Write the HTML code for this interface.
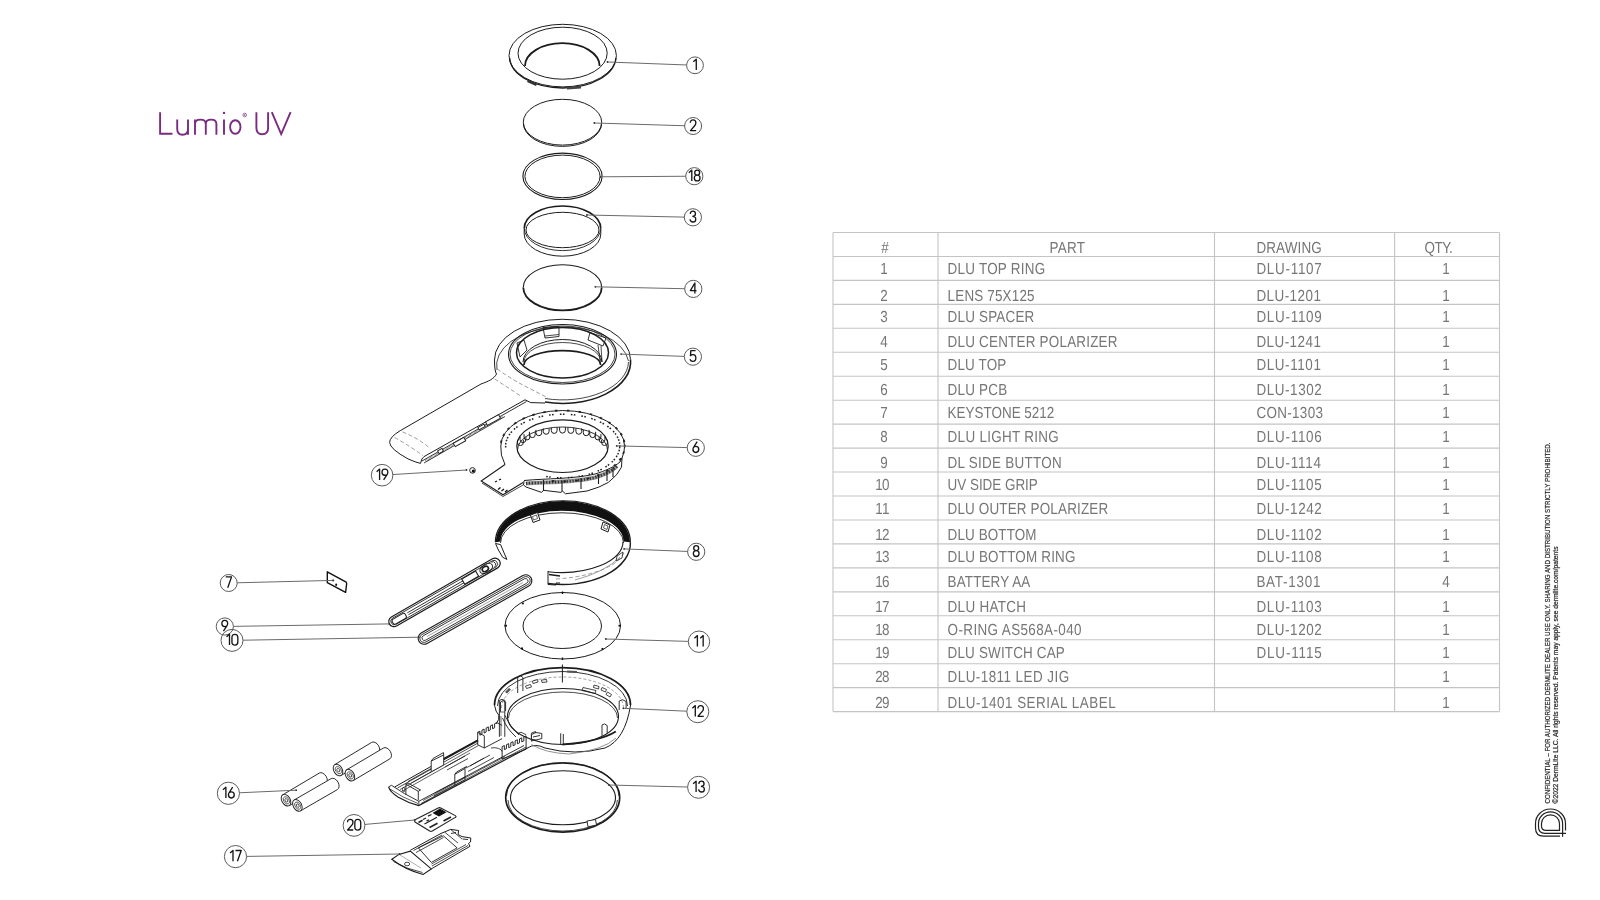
<!DOCTYPE html>
<html><head><meta charset="utf-8"><title>Lumio UV</title>
<style>
html,body{margin:0;padding:0;background:#fff;width:1600px;height:900px;overflow:hidden}
svg{position:absolute;left:0;top:0;will-change:transform}
.grid line{stroke:#c4c4c4;stroke-width:1.1}
.tt text{text-rendering:geometricPrecision;font-family:"Liberation Sans",sans-serif;font-size:64px;fill:#767676}
.k{fill:none;stroke:#1c1c1c;stroke-width:1}
.kw{fill:#fff;stroke:#1c1c1c;stroke-width:1}
.co{fill:none;stroke:#5a5a5a;stroke-width:1}
.cl{fill:none;stroke:#6a6a6a;stroke-width:1}
.cn{font-family:"Liberation Sans",sans-serif;font-size:16px;fill:#111}
.ds{fill:none;stroke:#909090;stroke-width:0.9;stroke-dasharray:4 2.5}
.vt{font-family:"Liberation Sans",sans-serif;font-size:7.6px;fill:#2a2a2a;stroke:#2a2a2a;stroke-width:0.22}
</style></head>
<body>
<svg width="1600" height="900" viewBox="0 0 1600 900">
<g class="grid">
<line x1="833" y1="232.50" x2="1499.5" y2="232.50"/>
<line x1="833" y1="256.45" x2="1499.5" y2="256.45"/>
<line x1="833" y1="280.41" x2="1499.5" y2="280.41"/>
<line x1="833" y1="304.37" x2="1499.5" y2="304.37"/>
<line x1="833" y1="328.32" x2="1499.5" y2="328.32"/>
<line x1="833" y1="352.27" x2="1499.5" y2="352.27"/>
<line x1="833" y1="376.23" x2="1499.5" y2="376.23"/>
<line x1="833" y1="400.19" x2="1499.5" y2="400.19"/>
<line x1="833" y1="424.14" x2="1499.5" y2="424.14"/>
<line x1="833" y1="448.09" x2="1499.5" y2="448.09"/>
<line x1="833" y1="472.05" x2="1499.5" y2="472.05"/>
<line x1="833" y1="496.00" x2="1499.5" y2="496.00"/>
<line x1="833" y1="519.96" x2="1499.5" y2="519.96"/>
<line x1="833" y1="543.91" x2="1499.5" y2="543.91"/>
<line x1="833" y1="567.87" x2="1499.5" y2="567.87"/>
<line x1="833" y1="591.83" x2="1499.5" y2="591.83"/>
<line x1="833" y1="615.78" x2="1499.5" y2="615.78"/>
<line x1="833" y1="639.73" x2="1499.5" y2="639.73"/>
<line x1="833" y1="663.69" x2="1499.5" y2="663.69"/>
<line x1="833" y1="687.64" x2="1499.5" y2="687.64"/>
<line x1="833" y1="711.60" x2="1499.5" y2="711.60"/>
<line x1="833" y1="232.5" x2="833" y2="711.60"/>
<line x1="938" y1="232.5" x2="938" y2="711.60"/>
<line x1="1214.5" y1="232.5" x2="1214.5" y2="711.60"/>
<line x1="1394.6" y1="232.5" x2="1394.6" y2="711.60"/>
<line x1="1499.5" y1="232.5" x2="1499.5" y2="711.60"/>
</g>
<g class="tt">
<text transform="translate(885,253.00) scale(0.2100,0.25)" x="0" y="0" text-anchor="middle">#</text>
<text transform="translate(1049.4,253.00) scale(0.2100,0.25)" x="0" y="0" textLength="169.52" lengthAdjust="spacing">PART</text>
<text transform="translate(1256.4,253.00) scale(0.2100,0.25)" x="0" y="0" textLength="311.43" lengthAdjust="spacing">DRAWING</text>
<text transform="translate(1424.5,253.00) scale(0.2100,0.25)" x="0" y="0" textLength="134.29" lengthAdjust="spacing">QTY.</text>
<text transform="translate(884.1,273.50) scale(0.2100,0.25)" x="0" y="0" text-anchor="middle">1</text>
<text transform="translate(947.6,273.50) scale(0.2100,0.25)" x="0" y="0" textLength="464.29" lengthAdjust="spacing">DLU TOP RING</text>
<text transform="translate(1256.4,273.50) scale(0.2100,0.25)" x="0" y="0" textLength="311.43" lengthAdjust="spacing">DLU-1107</text>
<text transform="translate(1445.9,273.50) scale(0.2100,0.25)" x="0" y="0" text-anchor="middle">1</text>
<text transform="translate(884.1,300.50) scale(0.2100,0.25)" x="0" y="0" text-anchor="middle">2</text>
<text transform="translate(947.6,300.50) scale(0.2100,0.25)" x="0" y="0" textLength="413.81" lengthAdjust="spacing">LENS 75X125</text>
<text transform="translate(1256.4,300.50) scale(0.2100,0.25)" x="0" y="0" textLength="307.14" lengthAdjust="spacing">DLU-1201</text>
<text transform="translate(1445.9,300.50) scale(0.2100,0.25)" x="0" y="0" text-anchor="middle">1</text>
<text transform="translate(884.1,322.30) scale(0.2100,0.25)" x="0" y="0" text-anchor="middle">3</text>
<text transform="translate(947.6,322.30) scale(0.2100,0.25)" x="0" y="0" textLength="412.86" lengthAdjust="spacing">DLU SPACER</text>
<text transform="translate(1256.4,322.30) scale(0.2100,0.25)" x="0" y="0" textLength="311.43" lengthAdjust="spacing">DLU-1109</text>
<text transform="translate(1445.9,322.30) scale(0.2100,0.25)" x="0" y="0" text-anchor="middle">1</text>
<text transform="translate(884.1,346.50) scale(0.2100,0.25)" x="0" y="0" text-anchor="middle">4</text>
<text transform="translate(947.6,346.50) scale(0.2100,0.25)" x="0" y="0" textLength="809.05" lengthAdjust="spacing">DLU CENTER POLARIZER</text>
<text transform="translate(1256.4,346.50) scale(0.2100,0.25)" x="0" y="0" textLength="307.14" lengthAdjust="spacing">DLU-1241</text>
<text transform="translate(1445.9,346.50) scale(0.2100,0.25)" x="0" y="0" text-anchor="middle">1</text>
<text transform="translate(884.1,370.30) scale(0.2100,0.25)" x="0" y="0" text-anchor="middle">5</text>
<text transform="translate(947.6,370.30) scale(0.2100,0.25)" x="0" y="0" textLength="279.52" lengthAdjust="spacing">DLU TOP</text>
<text transform="translate(1256.4,370.30) scale(0.2100,0.25)" x="0" y="0" textLength="307.14" lengthAdjust="spacing">DLU-1101</text>
<text transform="translate(1445.9,370.30) scale(0.2100,0.25)" x="0" y="0" text-anchor="middle">1</text>
<text transform="translate(884.1,395.00) scale(0.2100,0.25)" x="0" y="0" text-anchor="middle">6</text>
<text transform="translate(947.6,395.00) scale(0.2100,0.25)" x="0" y="0" textLength="283.81" lengthAdjust="spacing">DLU PCB</text>
<text transform="translate(1256.4,395.00) scale(0.2100,0.25)" x="0" y="0" textLength="311.43" lengthAdjust="spacing">DLU-1302</text>
<text transform="translate(1445.9,395.00) scale(0.2100,0.25)" x="0" y="0" text-anchor="middle">1</text>
<text transform="translate(884.1,418.30) scale(0.2100,0.25)" x="0" y="0" text-anchor="middle">7</text>
<text transform="translate(947.6,418.30) scale(0.2100,0.25)" x="0" y="0" textLength="508.10" lengthAdjust="spacing">KEYSTONE 5212</text>
<text transform="translate(1256.4,418.30) scale(0.2100,0.25)" x="0" y="0" textLength="316.67" lengthAdjust="spacing">CON-1303</text>
<text transform="translate(1445.9,418.30) scale(0.2100,0.25)" x="0" y="0" text-anchor="middle">1</text>
<text transform="translate(884.1,442.00) scale(0.2100,0.25)" x="0" y="0" text-anchor="middle">8</text>
<text transform="translate(947.6,442.00) scale(0.2100,0.25)" x="0" y="0" textLength="529.52" lengthAdjust="spacing">DLU LIGHT RING</text>
<text transform="translate(1256.4,442.00) scale(0.2100,0.25)" x="0" y="0" textLength="311.43" lengthAdjust="spacing">DLU-1106</text>
<text transform="translate(1445.9,442.00) scale(0.2100,0.25)" x="0" y="0" text-anchor="middle">1</text>
<text transform="translate(884.1,468.00) scale(0.2100,0.25)" x="0" y="0" text-anchor="middle">9</text>
<text transform="translate(947.6,468.00) scale(0.2100,0.25)" x="0" y="0" textLength="543.33" lengthAdjust="spacing">DL SIDE BUTTON</text>
<text transform="translate(1256.4,468.00) scale(0.2100,0.25)" x="0" y="0" textLength="307.14" lengthAdjust="spacing">DLU-1114</text>
<text transform="translate(1445.9,468.00) scale(0.2100,0.25)" x="0" y="0" text-anchor="middle">1</text>
<text transform="translate(875.2,490.00) scale(0.2100,0.25)" x="0" y="0" textLength="67.62" lengthAdjust="spacing">10</text>
<text transform="translate(947.6,490.00) scale(0.2100,0.25)" x="0" y="0" textLength="429.52" lengthAdjust="spacing">UV SIDE GRIP</text>
<text transform="translate(1256.4,490.00) scale(0.2100,0.25)" x="0" y="0" textLength="311.43" lengthAdjust="spacing">DLU-1105</text>
<text transform="translate(1445.9,490.00) scale(0.2100,0.25)" x="0" y="0" text-anchor="middle">1</text>
<text transform="translate(875.2,513.50) scale(0.2100,0.25)" x="0" y="0" textLength="67.62" lengthAdjust="spacing">11</text>
<text transform="translate(947.6,513.50) scale(0.2100,0.25)" x="0" y="0" textLength="764.29" lengthAdjust="spacing">DLU OUTER POLARIZER</text>
<text transform="translate(1256.4,513.50) scale(0.2100,0.25)" x="0" y="0" textLength="311.43" lengthAdjust="spacing">DLU-1242</text>
<text transform="translate(1445.9,513.50) scale(0.2100,0.25)" x="0" y="0" text-anchor="middle">1</text>
<text transform="translate(875.2,539.90) scale(0.2100,0.25)" x="0" y="0" textLength="67.62" lengthAdjust="spacing">12</text>
<text transform="translate(947.6,539.90) scale(0.2100,0.25)" x="0" y="0" textLength="423.33" lengthAdjust="spacing">DLU BOTTOM</text>
<text transform="translate(1256.4,539.90) scale(0.2100,0.25)" x="0" y="0" textLength="311.43" lengthAdjust="spacing">DLU-1102</text>
<text transform="translate(1445.9,539.90) scale(0.2100,0.25)" x="0" y="0" text-anchor="middle">1</text>
<text transform="translate(875.2,562.00) scale(0.2100,0.25)" x="0" y="0" textLength="67.62" lengthAdjust="spacing">13</text>
<text transform="translate(947.6,562.00) scale(0.2100,0.25)" x="0" y="0" textLength="608.57" lengthAdjust="spacing">DLU BOTTOM RING</text>
<text transform="translate(1256.4,562.00) scale(0.2100,0.25)" x="0" y="0" textLength="311.43" lengthAdjust="spacing">DLU-1108</text>
<text transform="translate(1445.9,562.00) scale(0.2100,0.25)" x="0" y="0" text-anchor="middle">1</text>
<text transform="translate(875.2,586.50) scale(0.2100,0.25)" x="0" y="0" textLength="67.62" lengthAdjust="spacing">16</text>
<text transform="translate(947.6,586.50) scale(0.2100,0.25)" x="0" y="0" textLength="393.81" lengthAdjust="spacing">BATTERY AA</text>
<text transform="translate(1256.4,586.50) scale(0.2100,0.25)" x="0" y="0" textLength="304.76" lengthAdjust="spacing">BAT-1301</text>
<text transform="translate(1445.9,586.50) scale(0.2100,0.25)" x="0" y="0" text-anchor="middle">4</text>
<text transform="translate(875.2,612.00) scale(0.2100,0.25)" x="0" y="0" textLength="67.62" lengthAdjust="spacing">17</text>
<text transform="translate(947.6,612.00) scale(0.2100,0.25)" x="0" y="0" textLength="373.33" lengthAdjust="spacing">DLU HATCH</text>
<text transform="translate(1256.4,612.00) scale(0.2100,0.25)" x="0" y="0" textLength="311.43" lengthAdjust="spacing">DLU-1103</text>
<text transform="translate(1445.9,612.00) scale(0.2100,0.25)" x="0" y="0" text-anchor="middle">1</text>
<text transform="translate(875.2,634.50) scale(0.2100,0.25)" x="0" y="0" textLength="67.62" lengthAdjust="spacing">18</text>
<text transform="translate(947.6,634.50) scale(0.2100,0.25)" x="0" y="0" textLength="637.62" lengthAdjust="spacing">O-RING AS568A-040</text>
<text transform="translate(1256.4,634.50) scale(0.2100,0.25)" x="0" y="0" textLength="311.43" lengthAdjust="spacing">DLU-1202</text>
<text transform="translate(1445.9,634.50) scale(0.2100,0.25)" x="0" y="0" text-anchor="middle">1</text>
<text transform="translate(875.2,658.00) scale(0.2100,0.25)" x="0" y="0" textLength="67.62" lengthAdjust="spacing">19</text>
<text transform="translate(947.6,658.00) scale(0.2100,0.25)" x="0" y="0" textLength="558.10" lengthAdjust="spacing">DLU SWITCH CAP</text>
<text transform="translate(1256.4,658.00) scale(0.2100,0.25)" x="0" y="0" textLength="311.43" lengthAdjust="spacing">DLU-1115</text>
<text transform="translate(1445.9,658.00) scale(0.2100,0.25)" x="0" y="0" text-anchor="middle">1</text>
<text transform="translate(875.2,682.00) scale(0.2100,0.25)" x="0" y="0" textLength="67.62" lengthAdjust="spacing">28</text>
<text transform="translate(947.6,682.00) scale(0.2100,0.25)" x="0" y="0" textLength="578.57" lengthAdjust="spacing">DLU-1811 LED JIG</text>
<text transform="translate(1445.9,682.00) scale(0.2100,0.25)" x="0" y="0" text-anchor="middle">1</text>
<text transform="translate(875.2,708.00) scale(0.2100,0.25)" x="0" y="0" textLength="67.62" lengthAdjust="spacing">29</text>
<text transform="translate(947.6,708.00) scale(0.2100,0.25)" x="0" y="0" textLength="800.00" lengthAdjust="spacing">DLU-1401 SERIAL LABEL</text>
<text transform="translate(1445.9,708.00) scale(0.2100,0.25)" x="0" y="0" text-anchor="middle">1</text>
</g>
<!-- Title -->
<g fill="none" stroke="#7a2c82" stroke-width="1.9" stroke-linecap="butt">
<path d="M160.1,112.2 V133.8 H172.5"/>
<path d="M177.2,119.6 V129 Q177.2,134.7 182.6,134.7 Q188,134.7 188,129 M188,119.6 V134.7"/>
<path d="M195,134.7 V119.6 M195,124 Q195,119.6 200.4,119.6 Q205.8,119.6 205.8,124 V134.7 M205.8,124 Q205.8,119.6 211.1,119.6 Q216.4,119.6 216.4,124 V134.7"/>
<path d="M224,119.6 V134.7"/>
<ellipse cx="235.3" cy="127" rx="5.2" ry="6.8"/>
<path d="M256.4,112.2 V128 Q256.4,134.2 262.25,134.2 Q268.1,134.2 268.1,128 V112.2"/>
<path d="M271.8,112.2 L281.2,134.2 L290.6,112.2"/>
</g>
<circle cx="224" cy="112.9" r="1.2" fill="#7a2c82"/>
<circle cx="244.7" cy="115" r="1.8" fill="none" stroke="#7a2c82" stroke-width="0.7"/><circle cx="244.7" cy="115" r="0.7" fill="#7a2c82"/>

<!-- vertical confidential text -->
<text class="vt" transform="translate(1549.8,803.5) rotate(-90)" textLength="361" lengthAdjust="spacingAndGlyphs">CONFIDENTIAL – FOR AUTHORIZED DERMLITE DEALER USE ONLY. SHARING AND DISTRIBUTION STRICTLY PROHIBITED.</text>
<text class="vt" transform="translate(1557.6,803.5) rotate(-90)" textLength="257" lengthAdjust="spacingAndGlyphs">©2022 DermLite LLC. All rights reserved. Patents may apply, see dermlite.com/patents</text>
<!-- logo -->
<g fill="none" stroke="#222" stroke-width="1.2">
<path d="M1565.5,830.5 V823.5 A15,14.5 0 0 0 1535.5,823.5 V828 Q1535.5,836.1 1543.6,836.1 H1560"/>
<path d="M1562.6,836.8 V823.5 A12,11.6 0 0 0 1538.5,823.5 V827 Q1538.5,833.3 1545,833.3 H1566"/>
<path d="M1559.5,823.5 A9,8.7 0 0 0 1541.5,823.5 V826 Q1541.5,830.4 1546,830.4 H1559.5 Z"/>
</g>

<!-- Part 1: top ring -->
<g class="k">
<ellipse cx="562.7" cy="55.6" rx="53.7" ry="31.3"/>
<path d="M509.6,58 A53.2,31.3 0 0 0 615.9,58" stroke-width="1.4"/>
<ellipse cx="562.6" cy="53.2" rx="44.6" ry="26"/>
<path d="M525,66 A37.3,22.8 0 0 1 599.6,66" stroke-width="1.8"/>
</g>
<path d="M528,80 L537,84 L536,86 L527,82 Z" fill="#333"/>
<path d="M567,87 L581,86 L581,88.5 L567,89.5 Z" fill="#444"/>

<!-- Part 2: lens -->
<g class="k">
<ellipse cx="562.5" cy="122.2" rx="39.2" ry="22.9"/>
<path d="M523.4,123.5 A39.1,22.9 0 0 0 601.6,123.5" stroke-width="1"/>
</g>

<!-- Part 18: o-ring -->
<g class="k">
<ellipse cx="562.5" cy="176.3" rx="39.6" ry="23.2" stroke-width="1.1"/>
<ellipse cx="562.5" cy="176.4" rx="37.6" ry="21.3" stroke-width="1"/>
</g>

<!-- Part 3: spacer -->
<g class="k">
<path d="M524.3,228.3 A38.2,22.3 0 0 1 600.7,228.3" stroke-width="1.7"/>
<path d="M524.3,228.3 A38.2,22.3 0 0 0 600.7,228.3" stroke-width="0.9"/>
<ellipse cx="562.5" cy="230" rx="36.5" ry="17.7"/>
<path d="M524.2,228.3 V234 A38.3,22.2 0 0 0 600.8,234 V228.3"/>
</g>

<!-- Part 4: center polarizer -->
<g class="k">
<path d="M523.3,287.5 A39.2,22.8 0 0 1 601.7,287.5" stroke-width="1.1"/>
<path d="M523.3,287.5 A39.2,22.8 0 0 0 601.7,287.5" stroke-width="1.8"/>
</g>

<!-- Part 5: DLU top -->
<g class="k">
<!-- handle outline -->
<path d="M494.5,360 Q494.5,371 496.5,374 C494,379 488,381.5 481,384 L400.2,430.7 Q389.6,437 389.6,442.5 Q390,449 408,458.9 Q416,462.5 420.5,463.4"/>
<path d="M420.5,463.4 Q421.5,458 424,456.6 L525,399.8 L530.7,402.6 L545,403"/>
<path d="M422,461 L526.5,401.5" stroke-width="0.9"/>
<path d="M425.5,461 L503,416" stroke="#777" stroke-width="2.4" stroke-dasharray="0.7 0.7"/>
<path d="M424,463 L505,416.5" stroke-width="0.8"/>
<g fill="#fff" stroke="#1c1c1c" stroke-width="0.9">
<rect x="438" y="449.5" width="5" height="3" transform="rotate(-29.5 440.5 451)"/>
<rect x="453.5" y="440" width="12" height="4" transform="rotate(-29.5 459.5 442)"/>
<rect x="478" y="425.7" width="7" height="2.6" transform="rotate(-29.5 481.5 427)"/>
<rect x="485.5" y="418" width="15" height="4" transform="rotate(-29.5 493 420)"/>
</g>
<!-- ring silhouette -->
<path d="M494.5,360 A68,40.5 0 0 1 630.5,359.5"/>
<path d="M630.5,359.5 A68,41.5 0 0 1 545,402" stroke-width="1.6"/>
<path d="M628.5,362 A66,38.5 0 0 1 545,398.5" stroke-width="0.8"/>
<path d="M497,370 A66,38.5 0 0 1 628.5,361" stroke-width="0.8"/>
<ellipse cx="562.5" cy="354.25" rx="54" ry="29.75" stroke-width="1.1"/>
<ellipse cx="562.5" cy="354.25" rx="52.5" ry="28.25" stroke-width="0.8"/>
<ellipse cx="562.5" cy="352.75" rx="46" ry="25.25" stroke-width="1.5"/>
<path d="M523,362 A39.5,22.5 0 0 1 602,362"/>
<path d="M524,362 A38.5,19.5 0 0 1 601,362" stroke-width="0.8"/>
<path d="M523.9,365 A38.3,14.4 0 0 1 600.6,365" stroke-width="1.6"/>
<path d="M543,327.5 L559,326.5 L559,336.5 L545,338 Z" stroke-width="0.9"/>
<path d="M545,336 L559,334.5" stroke-width="0.8"/>
<path d="M590,332.5 L606,338 L603,346 L588,340 Z" stroke-width="0.9"/>
<path d="M517,343 L524,340 L527,350 L520,357 Z" stroke-width="0.9"/>
<path d="M598,345 L600,361 M601,346 L602,362" stroke-width="0.8"/>
</g>
<g class="ds">
<path d="M497,369 Q510,378 521,384 L548,398"/>
<path d="M402.5,431.9 Q418,438 430.6,448.7"/>
<path d="M394.6,437.5 Q410,446 422.7,455.5"/>
<path d="M494.7,379 L520.6,395.9"/>
</g>

<!-- Part 6: PCB -->
<g class="k">
<path d="M505,464.5 Q500,455 500.8,446 A61.9,35.5 0 0 1 624.6,446 Q624.6,452 622,458"/>
<path d="M505,464.5 L481.2,481 L503,494.8 L523,482.5" stroke-width="1.1"/>
<path d="M482,483 L503,496.5 L523,485" stroke-width="0.8"/>
<path d="M495,482 L497,481 M499,480 L501,479 M498,489.5 L500.5,487.5 M501.5,491 L504,489 M505,492 L507.5,490" stroke="#111" stroke-width="1.3"/>
<path d="M524,480.5 C545,478.5 575,479 595,474 C605,471 614,467 620,462 L622,458" stroke-width="1"/>
<path d="M526,483.5 C545,482 575,482.5 595,477.5 C605,474.5 612,471 617,466" stroke="#9a9a9a" stroke-width="4.2" fill="none"/>
<path d="M526,483.5 C545,482 575,482.5 595,477.5 C605,474.5 612,471 617,466" stroke="#333" stroke-width="2.8" stroke-dasharray="1.3 1.6" fill="none"/>
<path d="M524,481 L523.5,485 L526,487 L541.6,492.4 L543.5,490.3 L561,492.4 L562.5,491 L565.4,493.8 L587,491 Q600,487.5 608.5,482.3 Q618,475 621.5,467.2 L622,458" stroke-width="1"/>
<path d="M543.5,480 V491 M562,480.5 V491.5 M581,478 V489 M598.5,474 V484 M607,470 V481 M613,467 V477" stroke-width="1.1"/>
<ellipse cx="562.5" cy="446.2" rx="45.7" ry="26.3" stroke-width="1.2"/>
<path d="M517.5,450 A45,23 0 0 1 607.5,450" stroke-width="0.9"/>
</g>
<g class="k" stroke-width="0.9"><path d="M517.54,439.74 v2.9 a2.9,2.9 0 0 0 5.8,0 v-2.9 M520.06,436.83 v2.9 a2.9,2.9 0 0 0 5.8,0 v-2.9 M524.07,434.16 v2.9 a2.9,2.9 0 0 0 5.8,0 v-2.9 M529.42,431.82 v2.9 a2.9,2.9 0 0 0 5.8,0 v-2.9 M535.91,429.90 v2.9 a2.9,2.9 0 0 0 5.8,0 v-2.9 M543.29,428.47 v2.9 a2.9,2.9 0 0 0 5.8,0 v-2.9 M551.29,427.60 v2.9 a2.9,2.9 0 0 0 5.8,0 v-2.9 M559.60,427.30 v2.9 a2.9,2.9 0 0 0 5.8,0 v-2.9 M567.91,427.60 v2.9 a2.9,2.9 0 0 0 5.8,0 v-2.9 M575.91,428.47 v2.9 a2.9,2.9 0 0 0 5.8,0 v-2.9 M583.29,429.90 v2.9 a2.9,2.9 0 0 0 5.8,0 v-2.9 M589.78,431.82 v2.9 a2.9,2.9 0 0 0 5.8,0 v-2.9 M595.13,434.16 v2.9 a2.9,2.9 0 0 0 5.8,0 v-2.9 M599.14,436.83 v2.9 a2.9,2.9 0 0 0 5.8,0 v-2.9 M601.66,439.74 v2.9 a2.9,2.9 0 0 0 5.8,0 v-2.9"/></g>
<g fill="#222"><g transform="translate(624.70,446.00) rotate(90.0)"><rect x="-1.3" y="-0.9" width="2.6" height="1.8"/></g><g transform="translate(623.56,452.77) rotate(108.8)"><rect x="-1.3" y="-0.9" width="2.6" height="1.8"/></g><g transform="translate(620.19,459.30) rotate(125.2)"><rect x="-1.3" y="-0.9" width="2.6" height="1.8"/></g><g transform="translate(614.70,465.33) rotate(138.6)"><rect x="-1.3" y="-0.9" width="2.6" height="1.8"/></g><g transform="translate(607.30,470.66) rotate(149.3)"><rect x="-1.3" y="-0.9" width="2.6" height="1.8"/></g><g transform="translate(598.26,475.08) rotate(158.2)"><rect x="-1.3" y="-0.9" width="2.6" height="1.8"/></g><g transform="translate(587.92,478.43) rotate(165.7)"><rect x="-1.3" y="-0.9" width="2.6" height="1.8"/></g><g transform="translate(576.65,480.59) rotate(172.5)"><rect x="-1.3" y="-0.9" width="2.6" height="1.8"/></g><g transform="translate(564.86,481.48) rotate(178.9)"><rect x="-1.3" y="-0.9" width="2.6" height="1.8"/></g><g transform="translate(553.00,481.06) rotate(-174.8)"><rect x="-1.3" y="-0.9" width="2.6" height="1.8"/></g><g transform="translate(501.16,441.67) rotate(-77.9)"><rect x="-1.3" y="-0.9" width="2.6" height="1.8"/></g><g transform="translate(503.73,435.03) rotate(-60.4)"><rect x="-1.3" y="-0.9" width="2.6" height="1.8"/></g><g transform="translate(508.47,428.79) rotate(-45.9)"><rect x="-1.3" y="-0.9" width="2.6" height="1.8"/></g><g transform="translate(515.21,423.18) rotate(-34.3)"><rect x="-1.3" y="-0.9" width="2.6" height="1.8"/></g><g transform="translate(523.68,418.41) rotate(-24.9)"><rect x="-1.3" y="-0.9" width="2.6" height="1.8"/></g><g transform="translate(533.59,414.66) rotate(-16.9)"><rect x="-1.3" y="-0.9" width="2.6" height="1.8"/></g><g transform="translate(544.57,412.05) rotate(-9.9)"><rect x="-1.3" y="-0.9" width="2.6" height="1.8"/></g><g transform="translate(556.22,410.69) rotate(-3.4)"><rect x="-1.3" y="-0.9" width="2.6" height="1.8"/></g><g transform="translate(568.10,410.64) rotate(2.9)"><rect x="-1.3" y="-0.9" width="2.6" height="1.8"/></g><g transform="translate(579.79,411.88) rotate(9.3)"><rect x="-1.3" y="-0.9" width="2.6" height="1.8"/></g><g transform="translate(590.85,414.37) rotate(16.3)"><rect x="-1.3" y="-0.9" width="2.6" height="1.8"/></g><g transform="translate(600.87,418.03) rotate(24.1)"><rect x="-1.3" y="-0.9" width="2.6" height="1.8"/></g><g transform="translate(609.49,422.71) rotate(33.4)"><rect x="-1.3" y="-0.9" width="2.6" height="1.8"/></g><g transform="translate(616.39,428.25) rotate(44.8)"><rect x="-1.3" y="-0.9" width="2.6" height="1.8"/></g><g transform="translate(621.32,434.44) rotate(59.0)"><rect x="-1.3" y="-0.9" width="2.6" height="1.8"/></g><g transform="translate(624.10,441.06) rotate(76.2)"><rect x="-1.3" y="-0.9" width="2.6" height="1.8"/></g><g transform="translate(619.44,449.05) rotate(99.8)"><rect x="-2.3" y="-0.75" width="1.6" height="1.5"/><rect x="0.7" y="-0.75" width="1.6" height="1.5"/></g><g transform="translate(617.35,455.03) rotate(118.0)"><rect x="-2.3" y="-0.75" width="1.6" height="1.5"/><rect x="0.7" y="-0.75" width="1.6" height="1.5"/></g><g transform="translate(613.26,460.68) rotate(133.0)"><rect x="-2.3" y="-0.75" width="1.6" height="1.5"/><rect x="0.7" y="-0.75" width="1.6" height="1.5"/></g><g transform="translate(607.31,465.80) rotate(145.0)"><rect x="-2.3" y="-0.75" width="1.6" height="1.5"/><rect x="0.7" y="-0.75" width="1.6" height="1.5"/></g><g transform="translate(599.72,470.18) rotate(154.5)"><rect x="-2.3" y="-0.75" width="1.6" height="1.5"/><rect x="0.7" y="-0.75" width="1.6" height="1.5"/></g><g transform="translate(590.77,473.68) rotate(162.5)"><rect x="-2.3" y="-0.75" width="1.6" height="1.5"/><rect x="0.7" y="-0.75" width="1.6" height="1.5"/></g><g transform="translate(580.79,476.16) rotate(169.4)"><rect x="-2.3" y="-0.75" width="1.6" height="1.5"/><rect x="0.7" y="-0.75" width="1.6" height="1.5"/></g><g transform="translate(570.14,477.53) rotate(175.8)"><rect x="-2.3" y="-0.75" width="1.6" height="1.5"/><rect x="0.7" y="-0.75" width="1.6" height="1.5"/></g><g transform="translate(559.22,477.74) rotate(-178.0)"><rect x="-2.3" y="-0.75" width="1.6" height="1.5"/><rect x="0.7" y="-0.75" width="1.6" height="1.5"/></g><g transform="translate(548.43,476.79) rotate(-171.8)"><rect x="-2.3" y="-0.75" width="1.6" height="1.5"/><rect x="0.7" y="-0.75" width="1.6" height="1.5"/></g><g transform="translate(505.72,445.17) rotate(-87.3)"><rect x="-2.3" y="-0.75" width="1.6" height="1.5"/><rect x="0.7" y="-0.75" width="1.6" height="1.5"/></g><g transform="translate(507.05,439.12) rotate(-68.3)"><rect x="-2.3" y="-0.75" width="1.6" height="1.5"/><rect x="0.7" y="-0.75" width="1.6" height="1.5"/></g><g transform="translate(510.43,433.32) rotate(-52.1)"><rect x="-2.3" y="-0.75" width="1.6" height="1.5"/><rect x="0.7" y="-0.75" width="1.6" height="1.5"/></g><g transform="translate(515.72,427.99) rotate(-39.1)"><rect x="-2.3" y="-0.75" width="1.6" height="1.5"/><rect x="0.7" y="-0.75" width="1.6" height="1.5"/></g><g transform="translate(522.75,423.32) rotate(-28.7)"><rect x="-2.3" y="-0.75" width="1.6" height="1.5"/><rect x="0.7" y="-0.75" width="1.6" height="1.5"/></g><g transform="translate(531.24,419.48) rotate(-20.3)"><rect x="-2.3" y="-0.75" width="1.6" height="1.5"/><rect x="0.7" y="-0.75" width="1.6" height="1.5"/></g><g transform="translate(540.89,416.62) rotate(-13.0)"><rect x="-2.3" y="-0.75" width="1.6" height="1.5"/><rect x="0.7" y="-0.75" width="1.6" height="1.5"/></g><g transform="translate(551.34,414.84) rotate(-6.5)"><rect x="-2.3" y="-0.75" width="1.6" height="1.5"/><rect x="0.7" y="-0.75" width="1.6" height="1.5"/></g><g transform="translate(562.20,414.20) rotate(-0.3)"><rect x="-2.3" y="-0.75" width="1.6" height="1.5"/><rect x="0.7" y="-0.75" width="1.6" height="1.5"/></g><g transform="translate(573.09,414.73) rotate(5.9)"><rect x="-2.3" y="-0.75" width="1.6" height="1.5"/><rect x="0.7" y="-0.75" width="1.6" height="1.5"/></g><g transform="translate(583.59,416.41) rotate(12.4)"><rect x="-2.3" y="-0.75" width="1.6" height="1.5"/><rect x="0.7" y="-0.75" width="1.6" height="1.5"/></g><g transform="translate(593.33,419.18) rotate(19.6)"><rect x="-2.3" y="-0.75" width="1.6" height="1.5"/><rect x="0.7" y="-0.75" width="1.6" height="1.5"/></g><g transform="translate(601.94,422.93) rotate(27.9)"><rect x="-2.3" y="-0.75" width="1.6" height="1.5"/><rect x="0.7" y="-0.75" width="1.6" height="1.5"/></g><g transform="translate(609.10,427.53) rotate(38.0)"><rect x="-2.3" y="-0.75" width="1.6" height="1.5"/><rect x="0.7" y="-0.75" width="1.6" height="1.5"/></g><g transform="translate(614.57,432.81) rotate(50.8)"><rect x="-2.3" y="-0.75" width="1.6" height="1.5"/><rect x="0.7" y="-0.75" width="1.6" height="1.5"/></g><g transform="translate(618.13,438.58) rotate(66.7)"><rect x="-2.3" y="-0.75" width="1.6" height="1.5"/><rect x="0.7" y="-0.75" width="1.6" height="1.5"/></g><g transform="translate(619.65,444.61) rotate(85.5)"><rect x="-2.3" y="-0.75" width="1.6" height="1.5"/><rect x="0.7" y="-0.75" width="1.6" height="1.5"/></g></g>

<!-- Part 19: switch cap -->
<circle cx="472.5" cy="470.4" r="2.8" fill="#fff" stroke="#222" stroke-width="1"/>
<circle cx="473.3" cy="471" r="1.6" fill="#111"/>

<!-- Part 8: light ring -->
<g class="k">
<!-- dark band back -->
<path d="M495.8,542.2 A67.1,41.2 0 0 1 630,542.2 L623.5,541.5 A61.5,30.7 0 0 0 500.5,541.5 Z" fill="#111" stroke="none"/>
<path d="M623.5,543 A61.5,30.2 0 0 0 500.5,543" stroke-width="0.9"/>
<path d="M495.4,542.2 A67.5,41.5 0 0 1 630.4,542.2" stroke-width="1.2"/>
<path d="M630.4,542.2 A67.5,41.5 0 0 1 548,583.5" stroke-width="1.4"/>
<path d="M623,542 A61.5,30.6 0 0 1 548,571.8" stroke-width="1.1"/>
<path d="M548,571 V584.5 L556,585 L556,583 L560,583" stroke-width="1"/>
<path d="M549,574.5 L560,576" stroke-width="1.6"/>
<path d="M495.5,543.5 L500.6,544.6 L503.7,552 L506.9,559.4 L502.7,557.3 L498.4,550 Z" fill="#fff" stroke-width="1"/>
<path d="M556,579 Q590,577 612,565 Q620,560 624,553" class="ds" stroke="#999"/>
<path d="M575,580 Q605,572 620,557" stroke-width="0.7" stroke="#777"/>
<path d="M530.5,515 L537.5,512.5 L540,520 L533,522.5 Z" fill="#fff" stroke-width="1"/>
<path d="M532.5,516.5 L536.5,515 L537.5,518.5 L533.5,520 Z" stroke-width="0.7"/>
<path d="M603,522 L610,525 L608,532 L601,529 Z" fill="#fff" stroke-width="1"/>
<path d="M604.5,524.5 L608,526 L607,529.5 L603.5,528 Z" stroke-width="0.7"/>
<path d="M617,556 L623,552 L622,558 L616,561 Z" stroke-width="0.8"/>
</g>

<!-- Part 7: keystone -->
<path d="M327.3,571.8 L346.2,582.2 Q347,583 346.5,585 L345.6,592.4 L327.3,582.7 Z" fill="#fff" stroke="#111" stroke-width="1.4" stroke-linejoin="round"/>
<rect x="332.5" y="579.8" width="1.6" height="1.3" fill="#111"/>
<ellipse cx="336.2" cy="584.7" rx="1" ry="1.3" fill="#111"/>

<!-- Part 9: side button -->
<g class="k" transform="rotate(-29.9 444.4 592.25)">
<rect x="380.9" y="587.25" width="127" height="10.4" rx="5.2" stroke-width="1.2"/>
<path d="M386,588.9 H502 A3.6,3.6 0 0 1 502,596 H386 A3.6,3.6 0 0 1 386,588.9" stroke-width="0.8"/>
<path d="M402,591.6 H466 M402,593.8 H466" stroke-width="0.8"/>
<rect x="384.5" y="590" width="15" height="5.5" rx="2" stroke-width="1"/>
<path d="M466,589.5 H482 V595.5 H466 Z" stroke-width="1.1"/>
<ellipse cx="492.5" cy="592.45" rx="7" ry="4.2" stroke-width="0.9"/>
<ellipse cx="491.5" cy="592.45" rx="3.3" ry="2.4" stroke-width="1.6"/>
<path d="M500,589.5 A3,3 0 0 1 500,595.5" stroke-width="0.8"/>
</g>

<!-- Part 10: side grip -->
<g class="k" transform="rotate(-29.4 475 609.5)">
<rect x="410.6" y="603.5" width="128.8" height="12" rx="6" stroke-width="1.1"/>
<rect x="412.3" y="605.3" width="125.4" height="8.4" rx="4.2" stroke-width="0.8"/>
<rect x="414.5" y="607" width="121" height="5" rx="2.5" stroke-width="0.8"/>
<path d="M420,609.5 H530" stroke-width="0.6" stroke="#777"/>
</g>

<!-- Part 11: outer polarizer -->
<g class="k" stroke-width="1.5">
<ellipse cx="562.75" cy="625.75" rx="57.75" ry="33.25"/>
<ellipse cx="562.25" cy="626" rx="39.25" ry="22.5"/>
</g>
<g fill="#111">
<rect x="561.8" y="591.5" width="1.4" height="2.5"/>
<rect x="504.5" y="624.8" width="2.5" height="1.8"/>
<rect x="618.5" y="624.8" width="2.5" height="1.8"/>
<rect x="561.8" y="657.5" width="1.4" height="2.5"/>
<rect x="521.8" y="602.5" width="2" height="1.8"/>
<rect x="521" y="647.5" width="2" height="1.8"/>
<rect x="601.5" y="648" width="2" height="1.8"/>
</g>

<!-- Part 12: DLU bottom -->
<g class="k">
<!-- handle base -->
<path d="M388.6,786.9 Q390,792 398.3,797.2 Q408,802.8 418.8,805.6 L527.8,747.8" stroke-width="1.2"/>
<path d="M388.6,786.9 L391.5,785.3 Q404,794 418.8,801.3 L524,745.5" stroke-width="0.9"/>
<path d="M390,789 Q402,797.5 418,803.5" stroke-width="0.7"/>
<path d="M418.8,801.3 V805.6" stroke-width="0.8"/>
<path d="M394.8,786.9 L477.8,740" stroke-width="1"/>
<path d="M397.5,788 L478,743" stroke-width="0.8"/>
<path d="M400,789.5 L478.5,745.5 M402.5,791 L470,753" stroke-width="0.7"/>
<path d="M421,803.5 L526,747" stroke-width="0.7"/>
<path d="M443,759.5 L478,740.3" stroke-width="2"/>
<path d="M423,800.5 L505,756.5" stroke-width="0.7"/>
<path d="M433.9,795.8 L465,779.8 M434.5,793.2 L465,777.2" stroke-width="0.8"/>
<path d="M410.8,783.3 L431.2,771.8 M408,781.5 L431,768.5" stroke-width="0.8"/>
<!-- wall 1 -->
<path d="M405.9,784.2 V794.9 M405.9,784.2 L408,783 L420.5,790 L418.3,791.3 Z M418.3,791.3 V800.2" stroke-width="0.9"/>
<ellipse cx="403.7" cy="789.6" rx="1.3" ry="2.2" stroke-width="0.8"/>
<!-- tab 2 -->
<path d="M431.2,761.1 V771.8 L443.7,765 V754.9 Z M431.2,761.1 L433,758.5 L443.5,752.6 L443.7,754.9" fill="#fff" stroke-width="0.9"/>
<!-- wall 3 -->
<path d="M454.8,774.4 V785.1 M454.8,774.4 L465,768.5 V779.5 M454.8,774.4 L456.5,772 L466.5,766.5 L465,768.5" stroke-width="0.9"/>
<path d="M445,767 L465,756 M447,770 L468,758.5 M466,768 L490,755 M468,771.5 L494,757.5 M470,766 L484,758" stroke-width="0.8"/>
<path d="M491,748 A8,4 0 0 1 502,751.5" stroke-width="0.8"/>
<!-- comb walls -->
<path d="M477.7,744.8 V732.3 L479.90,731.18 L479.90,735.18 L481.93,734.15 L481.93,730.15 L484.12,729.04 L484.12,733.04 L486.15,732.01 L486.15,728.01 L488.35,726.89 L488.35,730.89 L490.38,729.86 L490.38,725.86 L492.57,724.75 L492.57,728.75 L494.60,727.72 L494.60,723.72 L496.80,722.60" stroke-width="0.95"/>
<path d="M477.7,744.8 L484.3,748 L502.1,738.6 M484.3,748 V735.8 L477.7,732.3 M496.8,722.6 L502.1,725.5" stroke-width="0.9"/>
<path d="M499.4,736.8 V700.3 Q502,698.5 504.8,700.3 V736.8" stroke-width="0.9"/>
<path d="M499.4,712 L504.8,712 M501,716 V736 " stroke-width="0.7"/>
<path d="M502.1,759 V746.6 L504.36,745.59 L504.36,749.59 L506.45,748.66 L506.45,744.66 L508.71,743.65 L508.71,747.65 L510.80,746.72 L510.80,742.72 L513.06,741.72 L513.06,745.72 L515.14,744.78 L515.14,740.78 L517.40,739.78 L517.40,743.78 L519.49,742.85 L519.49,738.85 L521.75,737.84 L521.75,741.84 L523.84,740.91 L523.84,736.91 L526.10,735.90 V749.2 L502.1,759" stroke-width="0.95"/>
<path d="M526.1,734.7 L521,732.2 L518,733.5" stroke-width="0.8"/>
<path d="M504.8,715.4 Q510,727 519,735 M502.5,718 Q507,729 516,737" stroke-width="0.9"/>
<path d="M531.4,733.2 L535.5,731.5 L535.5,739.5 L531.4,741.2 Z" stroke-width="0.9"/>
<path d="M527.8,747.8 Q535,743 545,748 Q575,756 605,748 Q625,740 630.6,705"/>
<!-- ring -->
<path d="M494.5,705 A68,37.5 0 0 1 630.5,705" stroke-width="1.8"/>
<path d="M497.5,706 A65,34.5 0 0 1 627.5,706" stroke-width="0.9"/>
<path d="M501.5,708 A61,31 0 0 1 623.5,708" stroke="#888" stroke-width="0.8" stroke-dasharray="3 2"/>
<path d="M494.5,705 Q495.5,712 498.8,715.2 Q500,719 496,724" stroke-width="1"/>
<ellipse cx="563" cy="716.5" rx="55.5" ry="28" stroke-width="1.1"/>
<path d="M508.5,718 A54.5,26 0 0 1 617.5,718" stroke-width="0.8"/>
<path d="M562.4,744.5 Q600,741.5 615.8,731.5" stroke-width="1.8"/>
<path d="M562.4,664.5 V682.5" stroke-width="1"/>
<path d="M517.7,693 L517.7,677 L520.5,675.7 L522.9,677.5 L522.9,691" stroke-width="0.9"/>
<path d="M500.5,711.8 V702 L503,700.6 L505.6,702 V711" stroke-width="0.9"/>
<path d="M602,735.9 V725 L604.5,723.9 L607.2,725.5 V733" stroke-width="0.9"/>
<path d="M560.7,744.5 V733.3 M563.3,744 V734" stroke-width="0.9"/>
<path d="M531.5,739.3 V734.5 L536,732.5 L541.8,733.5 V738.5 L536,740 Z M533,737 L540,735.5" fill="#fff" stroke-width="0.9"/>
<path d="M619.2,710 V701 L622.5,699.7 L626.1,701.5 V709" stroke-width="0.9"/>
<path d="M567,670.5 L577,671 L577,673 L567,672.5 Z" fill="#555" stroke="none"/>
<path d="M525.5,686 L530.5,684.5 L531.5,687 L526.5,688.5 Z M532.5,681 L537.5,679.5 L538,682 L533,683.5 Z M541.5,680 L546.5,679.5 L547,682 L542,682.5 Z" stroke-width="0.8"/>
<path d="M594,685 L599,686.5 L598.5,689 L593.5,687.5 Z M602,687.5 L606.5,689.5 L605.5,692 L601,690 Z M607.5,692 L611.5,694.5 L610,697 L606,694.5 Z" stroke-width="0.8"/>
<path d="M583,687.5 L596,690.5 L595,693.5 L582,690.5 Z" stroke-width="0.8"/>
<path d="M505,692 L509,688 L511,689.5 L507,693.5 Z" fill="#555" stroke="none"/>
<path d="M531.5,744.5 Q545,753 569.3,754 Q603.8,750 616,738" stroke-width="0.8" stroke="#777"/>
</g>

<!-- Part 13: bottom ring -->
<g class="k">
<ellipse cx="562.7" cy="797.6" rx="57" ry="34.6" stroke-width="1.7"/>
<path d="M506.5,796 A56.2,33.4 0 0 1 618.9,796" stroke-width="0.8"/>
<path d="M508,800 A54.7,31 0 0 0 617.4,800" stroke-width="0.8"/>
<ellipse cx="563" cy="797.8" rx="52.5" ry="27" stroke-width="1.1"/>
<path d="M587,821 L595.5,819.5 L596.5,825 L588,826.8 Z" fill="#fff" stroke-width="0.9"/>
</g>

<!-- Part 16: batteries -->
<path d="M334.75,764.60 L371.65,742.40 A6.3,4.2 59.0 0 1 378.15,753.20 L341.25,775.40 Z" fill="#fff" stroke="#222" stroke-width="0.95"/><ellipse cx="338" cy="770" rx="6.3" ry="4.2" transform="rotate(59.0 338 770)" fill="#fff" stroke="#222" stroke-width="0.95"/><ellipse cx="338.34" cy="769.79" rx="3.91" ry="2.60" transform="rotate(59.0 338 770)" fill="none" stroke="#444" stroke-width="0.8"/><ellipse cx="338.34" cy="769.79" rx="1.89" ry="1.26" transform="rotate(59.0 338 770)" fill="none" stroke="#333" stroke-width="0.8"/><path d="M346.69,769.78 L383.49,747.98 A6.3,4.2 59.4 0 1 389.91,758.82 L353.11,780.62 Z" fill="#fff" stroke="#222" stroke-width="0.95"/><ellipse cx="349.9" cy="775.2" rx="6.3" ry="4.2" transform="rotate(59.4 349.9 775.2)" fill="#fff" stroke="#222" stroke-width="0.95"/><ellipse cx="350.24" cy="775.00" rx="3.91" ry="2.60" transform="rotate(59.4 349.9 775.2)" fill="none" stroke="#444" stroke-width="0.8"/><ellipse cx="350.24" cy="775.00" rx="1.89" ry="1.26" transform="rotate(59.4 349.9 775.2)" fill="none" stroke="#333" stroke-width="0.8"/><path d="M282.78,794.78 L319.28,773.08 A6.3,4.2 59.3 0 1 325.72,783.92 L289.22,805.62 Z" fill="#fff" stroke="#222" stroke-width="0.95"/><ellipse cx="286" cy="800.2" rx="6.3" ry="4.2" transform="rotate(59.3 286 800.2)" fill="#fff" stroke="#222" stroke-width="0.95"/><ellipse cx="286.34" cy="800.00" rx="3.91" ry="2.60" transform="rotate(59.3 286 800.2)" fill="none" stroke="#444" stroke-width="0.8"/><ellipse cx="286.34" cy="800.00" rx="1.89" ry="1.26" transform="rotate(59.3 286 800.2)" fill="none" stroke="#333" stroke-width="0.8"/><path d="M294.25,799.94 L331.15,778.64 A6.3,4.2 60.0 0 1 337.45,789.56 L300.55,810.86 Z" fill="#fff" stroke="#222" stroke-width="0.95"/><ellipse cx="297.4" cy="805.4" rx="6.3" ry="4.2" transform="rotate(60.0 297.4 805.4)" fill="#fff" stroke="#222" stroke-width="0.95"/><ellipse cx="297.75" cy="805.20" rx="3.91" ry="2.60" transform="rotate(60.0 297.4 805.4)" fill="none" stroke="#444" stroke-width="0.8"/><ellipse cx="297.75" cy="805.20" rx="1.89" ry="1.26" transform="rotate(60.0 297.4 805.4)" fill="none" stroke="#333" stroke-width="0.8"/>

<!-- Part 20: serial label -->
<g>
<path d="M415.5,819.6 L438.2,807.9 Q439.5,807.3 440.8,807.9 L455.3,815.6 Q456.8,816.6 455.3,817.4 L432.3,831 Q431,831.7 429.7,831 L415,822 Q413.8,820.6 415.5,819.6 Z" fill="#fff" stroke="#222" stroke-width="1.1"/>
<path d="M432.5,813 L440,808.6 L446.5,812.2 L439,816.6 Z" fill="#111"/>
<path d="M418.5,822.5 L422.5,820.3" stroke="#222" stroke-width="1.6"/>
<path d="M423,819.5 L426,818 M424.5,824 L437,817.2 M428,816.2 L431.5,814.5 M426.5,821 L429,819.8" stroke="#222" stroke-width="1.3"/>
<path d="M429.5,827.5 L437.5,823.3" stroke="#222" stroke-width="1.6"/>
<path d="M443.5,821 L451,817" stroke="#222" stroke-width="1.6"/>
</g>

<!-- Part 17: hatch -->
<g class="k">
<path d="M410.3,850.3 L441,833.4 L444.5,832 L450.6,829.4 L458.7,830.5 L458,834.5 L462,836.6 L470.8,838 L470.5,842 L468.5,843.5 L470,846.3 L431.3,868.9" fill="#fff" stroke-width="1"/>
<path d="M391.8,859.2 L399,854.4 L410.3,851.1 L431.3,868.9 L423.2,874.5 Q405,869.5 391.8,859.2 Z" fill="#fff" stroke-width="1.1"/>
<path d="M393.5,861.5 Q406,869 422.5,872.5" stroke-width="0.8"/>
<path d="M399,854.4 L421,868" stroke-width="0.6" stroke="#777"/>
<path d="M418.4,847.9 L443.4,835.8 L457.1,847.9 L431.3,862.4 Z" stroke-width="0.9"/>
<path d="M413.5,850.5 L442,835 M416,852.5 L443.5,837.5" stroke-width="0.8"/>
<path d="M432,866 L468,845.5 M431.5,864 L466,844.5" stroke-width="0.8"/>
<path d="M444.5,832 L458,843 M450.6,829.4 L462,839" stroke-width="0.8"/>
<path d="M451,833.5 L456,832.5 M462.5,839 L468,839.5" stroke-width="0.9"/>
<ellipse cx="407.1" cy="864" rx="2.6" ry="1.8" stroke-width="0.8"/>
</g>

<line class="cl" x1="607.5" y1="62" x2="686.61" y2="64.98"/>
<circle cx="607.5" cy="62" r="0.9" fill="#333"/>
<circle class="co" cx="695" cy="65.3" r="8.4"/>
<g fill="none" stroke="#151515" stroke-width="1.35" stroke-linejoin="round"><path transform="translate(692.74,59.20) scale(0.9818)" d="M0.6,2.6 L3.6,0 V11"/></g>
<line class="cl" x1="594.3" y1="123" x2="684.60" y2="125.74"/>
<circle cx="594.3" cy="123" r="0.9" fill="#333"/>
<circle class="co" cx="693.1" cy="126" r="8.5"/>
<g fill="none" stroke="#151515" stroke-width="1.35" stroke-linejoin="round"><path transform="translate(689.96,119.90) scale(0.9818)" d="M0.4,3 Q0.4,0 3.2,0 Q6,0 6,2.9 Q6,4.6 4.6,6.2 L0.5,10.9 H6.3"/></g>
<line class="cl" x1="600.5" y1="176.8" x2="685.70" y2="176.26"/>
<circle cx="600.5" cy="176.8" r="0.9" fill="#333"/>
<circle class="co" cx="694.3" cy="176.2" r="8.6"/>
<g fill="none" stroke="#151515" stroke-width="1.35" stroke-linejoin="round"><path transform="translate(688.26,170.10) scale(0.9818)" d="M0.6,2.6 L3.6,0 V11"/><path transform="translate(694.05,170.10) scale(0.9818)" d="M3.2,5.1 Q0.7,5.1 0.7,2.6 Q0.7,0 3.2,0 Q5.7,0 5.7,2.6 Q5.7,5.1 3.2,5.1 Q0.3,5.1 0.3,8 Q0.3,11 3.2,11 Q6.1,11 6.1,8 Q6.1,5.1 3.2,5.1 Z"/></g>
<line class="cl" x1="586.9" y1="215" x2="684.30" y2="217.11"/>
<circle cx="586.9" cy="215" r="0.9" fill="#333"/>
<circle class="co" cx="692.9" cy="217.3" r="8.6"/>
<g fill="none" stroke="#151515" stroke-width="1.35" stroke-linejoin="round"><path transform="translate(689.76,211.20) scale(0.9818)" d="M0.4,2.6 Q0.9,0 3.2,0 Q5.8,0 5.8,2.8 Q5.8,5.2 2.6,5.2 M2.6,5.2 Q6.1,5.2 6.1,8.1 Q6.1,11 3.2,11 Q0.7,11 0.2,8.4"/></g>
<line class="cl" x1="595.3" y1="286.8" x2="684.70" y2="288.72"/>
<circle cx="595.3" cy="286.8" r="0.9" fill="#333"/>
<circle class="co" cx="693.3" cy="288.9" r="8.6"/>
<g fill="none" stroke="#151515" stroke-width="1.35" stroke-linejoin="round"><path transform="translate(690.06,282.80) scale(0.9818)" d="M4.9,11 V0.2 L0.3,7.9 H6.6"/></g>
<line class="cl" x1="621.1" y1="354.1" x2="684.31" y2="356.39"/>
<circle cx="621.1" cy="354.1" r="0.9" fill="#333"/>
<circle class="co" cx="692.9" cy="356.7" r="8.6"/>
<g fill="none" stroke="#151515" stroke-width="1.35" stroke-linejoin="round"><path transform="translate(689.76,350.60) scale(0.9818)" d="M5.9,0 H1.1 L0.7,5.2 Q1.7,4.1 3.3,4.1 Q6.2,4.1 6.2,7.5 Q6.2,11 3.2,11 Q0.8,11 0.2,8.8"/></g>
<line class="cl" x1="616.7" y1="445.9" x2="687.20" y2="447.59"/>
<circle cx="616.7" cy="445.9" r="0.9" fill="#333"/>
<circle class="co" cx="695.8" cy="447.8" r="8.6"/>
<g fill="none" stroke="#151515" stroke-width="1.35" stroke-linejoin="round"><path transform="translate(692.66,441.70) scale(0.9818)" d="M4.6,0 L1.1,5.4 Q0.3,6.6 0.3,7.8 Q0.3,11 3.2,11 Q6.2,11 6.2,7.8 Q6.2,4.7 3.2,4.7 Q2,4.7 1.2,5.3"/></g>
<line class="cl" x1="466.5" y1="470" x2="392.88" y2="474.54"/>
<circle cx="466.5" cy="470" r="0.9" fill="#333"/>
<circle class="co" cx="382.1" cy="475.2" r="10.8"/>
<g fill="none" stroke="#151515" stroke-width="1.35" stroke-linejoin="round"><path transform="translate(376.06,469.10) scale(0.9818)" d="M0.6,2.6 L3.6,0 V11"/><path transform="translate(381.85,469.10) scale(0.9818)" d="M1.8,11 L5.3,5.6 Q6.1,4.4 6.1,3.2 Q6.1,0 3.2,0 Q0.2,0 0.2,3.2 Q0.2,6.3 3.2,6.3 Q4.4,6.3 5.2,5.7"/></g>
<line class="cl" x1="624.1" y1="548.9" x2="687.61" y2="551.45"/>
<circle cx="624.1" cy="548.9" r="0.9" fill="#333"/>
<circle class="co" cx="696.2" cy="551.8" r="8.6"/>
<g fill="none" stroke="#151515" stroke-width="1.35" stroke-linejoin="round"><path transform="translate(693.06,545.70) scale(0.9818)" d="M3.2,5.1 Q0.7,5.1 0.7,2.6 Q0.7,0 3.2,0 Q5.7,0 5.7,2.6 Q5.7,5.1 3.2,5.1 Q0.3,5.1 0.3,8 Q0.3,11 3.2,11 Q6.1,11 6.1,8 Q6.1,5.1 3.2,5.1 Z"/></g>
<line class="cl" x1="333.2" y1="580.4" x2="237.20" y2="582.79"/>
<circle cx="333.2" cy="580.4" r="0.9" fill="#333"/>
<circle class="co" cx="228.7" cy="583" r="8.5"/>
<g fill="none" stroke="#151515" stroke-width="1.35" stroke-linejoin="round"><path transform="translate(225.56,576.90) scale(0.9818)" d="M0.2,0 H6.1 L2.2,11"/></g>
<line class="cl" x1="389.4" y1="623.9" x2="233.40" y2="626.36"/>
<circle cx="389.4" cy="623.9" r="0.9" fill="#333"/>
<circle class="co" cx="224.8" cy="626.5" r="8.6"/>
<g fill="none" stroke="#151515" stroke-width="1.35" stroke-linejoin="round"><path transform="translate(221.66,620.40) scale(0.9818)" d="M1.8,11 L5.3,5.6 Q6.1,4.4 6.1,3.2 Q6.1,0 3.2,0 Q0.2,0 0.2,3.2 Q0.2,6.3 3.2,6.3 Q4.4,6.3 5.2,5.7"/></g>
<line class="cl" x1="418.9" y1="637.2" x2="243.00" y2="640.21"/>
<circle cx="418.9" cy="637.2" r="0.9" fill="#333"/>
<circle class="co" cx="232" cy="640.4" r="11"/>
<g fill="none" stroke="#151515" stroke-width="1.35" stroke-linejoin="round"><path transform="translate(225.96,634.30) scale(0.9818)" d="M0.6,2.6 L3.6,0 V11"/><path transform="translate(231.75,634.30) scale(0.9818)" d="M3.2,0 Q6.2,0 6.2,3.2 V7.8 Q6.2,11 3.2,11 Q0.2,11 0.2,7.8 V3.2 Q0.2,0 3.2,0 Z"/></g>
<line class="cl" x1="605.8" y1="639" x2="688.30" y2="641.39"/>
<circle cx="605.8" cy="639" r="0.9" fill="#333"/>
<circle class="co" cx="699" cy="641.7" r="10.7"/>
<g fill="none" stroke="#151515" stroke-width="1.35" stroke-linejoin="round"><path transform="translate(693.85,635.60) scale(0.9818)" d="M0.6,2.6 L3.6,0 V11"/><path transform="translate(699.64,635.60) scale(0.9818)" d="M0.6,2.6 L3.6,0 V11"/></g>
<line class="cl" x1="623.3" y1="708.3" x2="686.81" y2="711.20"/>
<circle cx="623.3" cy="708.3" r="0.9" fill="#333"/>
<circle class="co" cx="697.8" cy="711.7" r="11"/>
<g fill="none" stroke="#151515" stroke-width="1.35" stroke-linejoin="round"><path transform="translate(691.76,705.60) scale(0.9818)" d="M0.6,2.6 L3.6,0 V11"/><path transform="translate(697.55,705.60) scale(0.9818)" d="M0.4,3 Q0.4,0 3.2,0 Q6,0 6,2.9 Q6,4.6 4.6,6.2 L0.5,10.9 H6.3"/></g>
<line class="cl" x1="608.9" y1="785" x2="687.60" y2="787.02"/>
<circle cx="608.9" cy="785" r="0.9" fill="#333"/>
<circle class="co" cx="698.6" cy="787.3" r="11"/>
<g fill="none" stroke="#151515" stroke-width="1.35" stroke-linejoin="round"><path transform="translate(692.56,781.20) scale(0.9818)" d="M0.6,2.6 L3.6,0 V11"/><path transform="translate(698.35,781.20) scale(0.9818)" d="M0.4,2.6 Q0.9,0 3.2,0 Q5.8,0 5.8,2.8 Q5.8,5.2 2.6,5.2 M2.6,5.2 Q6.1,5.2 6.1,8.1 Q6.1,11 3.2,11 Q0.7,11 0.2,8.4"/></g>
<line class="cl" x1="296.2" y1="790.2" x2="239.49" y2="792.79"/>
<circle cx="296.2" cy="790.2" r="0.9" fill="#333"/>
<circle class="co" cx="228.4" cy="793.3" r="11.1"/>
<g fill="none" stroke="#151515" stroke-width="1.35" stroke-linejoin="round"><path transform="translate(222.36,787.20) scale(0.9818)" d="M0.6,2.6 L3.6,0 V11"/><path transform="translate(228.15,787.20) scale(0.9818)" d="M4.6,0 L1.1,5.4 Q0.3,6.6 0.3,7.8 Q0.3,11 3.2,11 Q6.2,11 6.2,7.8 Q6.2,4.7 3.2,4.7 Q2,4.7 1.2,5.3"/></g>
<line class="cl" x1="414.7" y1="820" x2="364.86" y2="824.43"/>
<circle cx="414.7" cy="820" r="0.9" fill="#333"/>
<circle class="co" cx="354" cy="825.4" r="10.9"/>
<g fill="none" stroke="#151515" stroke-width="1.35" stroke-linejoin="round"><path transform="translate(347.08,819.30) scale(0.9818)" d="M0.4,3 Q0.4,0 3.2,0 Q6,0 6,2.9 Q6,4.6 4.6,6.2 L0.5,10.9 H6.3"/><path transform="translate(354.64,819.30) scale(0.9818)" d="M3.2,0 Q6.2,0 6.2,3.2 V7.8 Q6.2,11 3.2,11 Q0.2,11 0.2,7.8 V3.2 Q0.2,0 3.2,0 Z"/></g>
<line class="cl" x1="399.6" y1="854" x2="246.60" y2="856.42"/>
<circle cx="399.6" cy="854" r="0.9" fill="#333"/>
<circle class="co" cx="235.5" cy="856.6" r="11.1"/>
<g fill="none" stroke="#151515" stroke-width="1.35" stroke-linejoin="round"><path transform="translate(229.46,850.50) scale(0.9818)" d="M0.6,2.6 L3.6,0 V11"/><path transform="translate(235.25,850.50) scale(0.9818)" d="M0.2,0 H6.1 L2.2,11"/></g>
</svg>
</body></html>
